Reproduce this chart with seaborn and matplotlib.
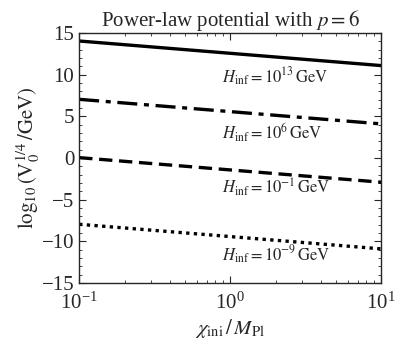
import numpy as np
import pandas as pd
import matplotlib
matplotlib.use("Agg")
import matplotlib.pyplot as plt
import seaborn as sns

# chart data: end points of each line (straight in log-x)
chi = [0.1, 10.0]
v_13 = [14.05, 11.1]
v_6 = [7.05, 4.1]
v_m1 = [0.05, -2.9]
v_m9 = [-7.95, -10.9]
labels = [r"$H_{\rm inf}=10^{13}\,\mathrm{GeV}$", r"$H_{\rm inf}=10^{6}\,\mathrm{GeV}$",
          r"$H_{\rm inf}=10^{-1}\,\mathrm{GeV}$", r"$H_{\rm inf}=10^{-9}\,\mathrm{GeV}$"]
label_y = [9.7, 3.0, -3.5, -11.6]

sns.set_style("ticks")
plt.rcParams['font.family'] = ['Liberation Serif', 'DejaVu Serif']
plt.rcParams['mathtext.fontset'] = 'stix'

rows = []
for name, vals in zip(labels, [v_13, v_6, v_m1, v_m9]):
    for c, v in zip(chi, vals):
        rows.append({"chi": c, "V": v, "H": name})
df = pd.DataFrame(rows)

fig = plt.figure(figsize=(4.08, 3.52), dpi=100)
ax = fig.add_axes([0.194, 0.196, 0.740, 0.710])

styles = ["-", (0, (6, 2, 1.5, 2)), (0, (4, 2)), (0, (1, 1.3))]
for name, ls in zip(labels, styles):
    sns.lineplot(data=df[df.H == name], x="chi", y="V", ax=ax, color="black",
                 lw=2.4, linestyle=ls, legend=False)

for name, y in zip(labels, label_y):
    ax.text(0.88, y, name, fontsize=12, ha="left", va="center")

ax.set_xscale("log")
ax.set_xlim(0.1, 10)
ax.set_ylim(-15, 15)
ax.set_yticks([-15, -10, -5, 0, 5, 10, 15])
ax.set_yticklabels(["\u221215", "\u221210", "\u22125", "0", "5", "10", "15"])
ax.yaxis.set_minor_locator(matplotlib.ticker.MultipleLocator(1))
ax.tick_params(which="both", direction="in", top=True, right=True, labelsize=15)
ax.tick_params(which="major", length=5)
ax.tick_params(which="minor", length=2.5)
ax.tick_params(axis="x", pad=7)
for s in ax.spines.values():
    s.set_linewidth(1.0)

ax.set_xlabel(r"$\chi_{\rm ini}\,/\,M_{\rm Pl}$", fontsize=15, labelpad=2)
ax.set_ylabel(r"$\log_{10}(\mathrm{V}_0^{1/4}\,/\mathrm{GeV})$", fontsize=15, labelpad=0)
ax.set_title(r"Power-law potential with $p=6$", fontsize=15, pad=2)

fig.savefig("out.png", dpi=100)
